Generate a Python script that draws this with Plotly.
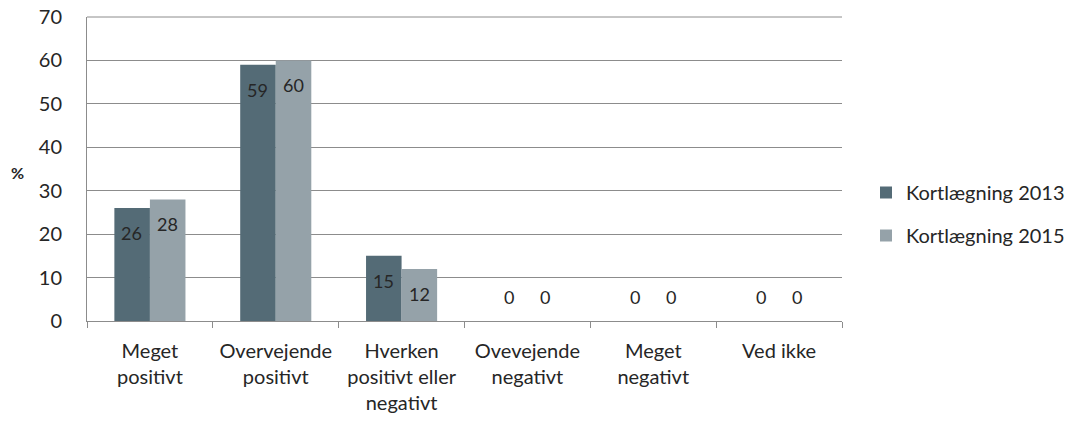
import plotly.graph_objects as go

categories = ["Meget<br>positivt", "Overvejende<br>positivt", "Hverken<br>positivt eller<br>negativt",
              "Ovevejende<br>negativt", "Meget<br>negativt", "Ved ikke"]
series_names = ["Kortlægning 2013", "Kortlægning 2015"]
values_2013 = [26, 59, 15, 0, 0, 0]
values_2015 = [28, 60, 12, 0, 0, 0]
y_ticks = [0, 10, 20, 30, 40, 50, 60, 70]

colors = ["#546B76", "#95A2A9"]
font_family = "Lato, 'Open Sans', sans-serif"
txt = "#262626"

W, H = 1081, 423  # body margin removed via post_script
L, T, PW, PH = 87, 17, 755, 304

fig = go.Figure()
for name, vals, col in zip(series_names, [values_2013, values_2015], colors):
    fig.add_trace(go.Bar(x=categories, y=vals, name=name, marker=dict(color=col, line=dict(width=0)),
                         legendgroup=name))

annotations = []
for k, vals in enumerate([values_2013, values_2015]):
    xs = -18 if k == 0 else 18
    for c, v in zip(categories, vals):
        annotations.append(dict(x=c, y=v, xref="x", yref="y", text=str(v), showarrow=False,
                                xshift=xs, yshift=(-25 if v > 0 else 24),
                                font=dict(size=18, color=txt, family=font_family)))
annotations.append(dict(x=(17 - L) / PW, y=(T + PH - 172) / PH, xref="paper", yref="paper",
                        xanchor="center", yanchor="middle",
                        text="<b>%</b>", showarrow=False,
                        font=dict(size=16, color=txt, family=font_family)))

fig.update_layout(
    width=W, height=H,
    margin=dict(l=L, r=W - L - PW, t=T, b=H - T - PH, autoexpand=False),
    paper_bgcolor="white", plot_bgcolor="white",
    barmode="group", bargap=0.435, bargroupgap=0,
    font=dict(family=font_family, size=20, color=txt),
    showlegend=True,
    legend=dict(x=(866 - L) / PW, y=(T + PH - 214) / PH, xanchor="left", yanchor="middle",
                traceorder="grouped", tracegroupgap=14, font=dict(size=20, color=txt),
                itemwidth=30),
    annotations=annotations,
)
fig.update_xaxes(showline=True, linecolor="#8C8C8C", linewidth=1, ticks="outside", tickson="boundaries",
                 ticklen=6, tickcolor="#8C8C8C", showgrid=False, tickfont=dict(size=20),
                 ticklabelstandoff=12, automargin=False)
fig.update_yaxes(range=[0, 70], tickvals=y_ticks, showline=True, linecolor="#8C8C8C", linewidth=1,
                 showgrid=True, gridcolor="#8C8C8C", gridwidth=1, ticks="", tickfont=dict(size=20),
                 zeroline=False, ticklabelstandoff=20, automargin=False, ticklabeloverflow="allow")
fig.add_shape(type="line", xref="paper", yref="paper", x0=0, x1=1, y0=1, y1=1,
              line=dict(color="#8C8C8C", width=1))

fig.write_html("out.html", config={"displayModeBar": False},
               post_script="document.body.style.margin='0';document.body.style.overflow='hidden';")
